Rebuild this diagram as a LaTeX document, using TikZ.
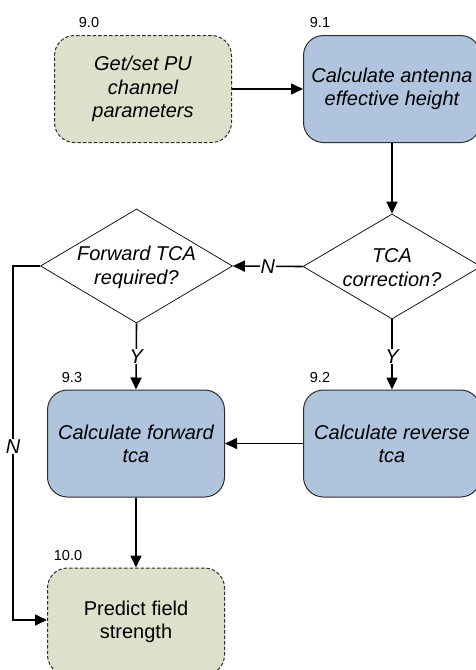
\documentclass[tikz,border=0pt]{standalone}
\usepackage{fontspec}
\setmainfont{Liberation Sans}
\usetikzlibrary{arrows.meta,shapes.geometric}
\definecolor{boxblue}{RGB}{176,196,222}
\definecolor{boxgreen}{RGB}{221,225,204}
\definecolor{edgegray}{RGB}{45,45,45}
\tikzset{
  proc/.style={draw=edgegray, line width=1pt, rounded corners=20pt, fill=boxblue,
    minimum width=177pt, minimum height=107pt, align=center, inner sep=0pt,
    font=\fontsize{20pt}{23.3pt}\selectfont\itshape},
  term/.style={proc, fill=boxgreen, dash pattern=on 3.5pt off 2pt},
  decshape/.style={draw=black, line width=0.7pt, diamond, fill=white, inner sep=0pt},
  dectext/.style={align=center, inner sep=0pt, font=\fontsize{20pt}{24pt}\selectfont\itshape},
  numlbl/.style={inner sep=0pt, font=\fontsize{14.5pt}{17pt}\selectfont},
  arr/.style={line width=1.6pt, -{Triangle[length=12pt,width=11pt]}},
  yn/.style={fill=white, inner sep=1pt, font=\fontsize{20pt}{23pt}\selectfont\itshape}
}
\begin{document}
\begin{tikzpicture}[x=1pt,y=-1pt]
\useasboundingbox[fill=white] (0,0) rectangle (475,670);
% process boxes
\node[term] (b90) at (143,89) {Get/set PU\\channel\\parameters};
\node[proc] (b91) at (392,89) {Calculate antenna\\effective height};
\node[proc] (b93) at (136,443.5) {Calculate forward\\tca};
\node[proc] (b92) at (392,443.5) {Calculate reverse\\tca};
\node[term, font=\fontsize{20pt}{23.3pt}\selectfont] (b100) at (136,621.5) {Predict field\\strength};
% decisions
\node[decshape, minimum width=192pt, minimum height=114pt] (fwd) at (136.5,266) {};
\node[dectext] (fwdtxt) at (136.5,267) {Forward TCA\\required?};
\node[decshape, minimum width=178pt, minimum height=105pt] (tca) at (392,266.5) {};
\node[dectext] (tcatxt) at (392,267.5) {TCA\\correction?};
% number labels
\node[numlbl] (l90) at (89,23) {9.0};
\node[numlbl] (l91) at (320,23) {9.1};
\node[numlbl] (l93) at (72,378) {9.3};
\node[numlbl] (l92) at (320,378) {9.2};
\node[numlbl] (l100) at (68,556) {10.0};
% connectors
\draw[arr] (b90) -- (b91);
\draw[arr] (b91.south) -- (tca.north);
\draw[arr] (tca.west) -- node[yn] {N} (fwd.east);
\draw[arr] (fwd.south) -- node[yn, pos=0.5] {Y} (b93.north);
\draw[arr] (tca.south) -- node[yn, pos=0.53] {Y} (b92.north);
\draw[arr] (b92.west) -- (b93.east);
\draw[arr] (b93.south) -- (b100.north);
\coordinate (nleft) at (13,266);
\coordinate (nlow) at (13,620);
\draw[arr] (fwd.west) -- (nleft) -- node[yn, pos=0.51] {N} (nlow) -- (nlow -| b100.west);
\end{tikzpicture}
\end{document}
